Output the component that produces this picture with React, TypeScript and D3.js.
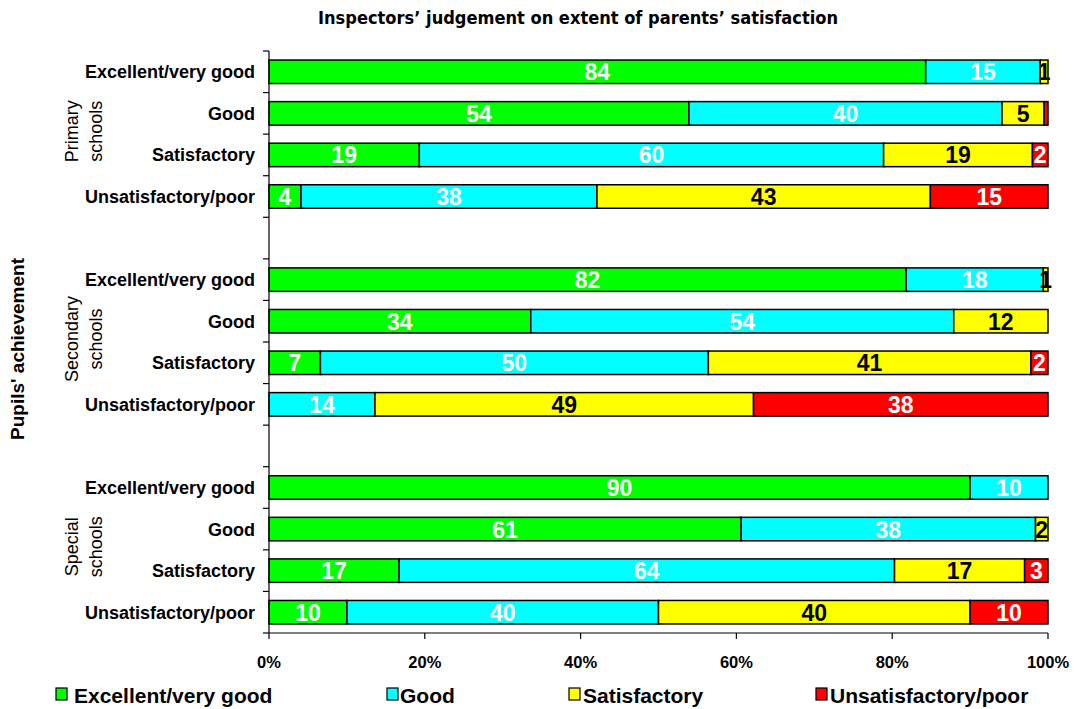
import React from "react";
import * as d3 from "d3";

// Rows of the chart: three school types, each with four achievement bands
const schoolTypes = ["Primary schools", "Secondary schools", "Special schools"];
const achievementBands = ["Excellent/very good", "Good", "Satisfactory", "Unsatisfactory/poor"];

// Parents' satisfaction series (percent of schools), one value per row, top to bottom
const seriesNames = ["Excellent/very good", "Good", "Satisfactory", "Unsatisfactory/poor"];
const excellentVeryGood = [84.3, 53.9, 19.3, 4.1, 81.8, 33.6, 6.6, 0, 90.0, 60.6, 16.7, 10.0];
const good = [14.7, 40.2, 59.6, 38.0, 17.6, 54.3, 49.8, 13.6, 10.0, 37.8, 63.6, 40.0];
const satisfactory = [1.0, 5.4, 19.1, 42.8, 0.6, 12.1, 41.4, 48.6, 0, 1.6, 16.7, 40.0];
const unsatisfactoryPoor = [0, 0.5, 2.0, 15.1, 0, 0, 2.2, 37.8, 0, 0, 3.0, 10.0];

const xTicks = [0, 20, 40, 60, 80, 100];

const seriesColors = ["#00FF00", "#00FFFF", "#FFFF00", "#FF0000"];
const labelColors = ["#FFFFFF", "#FFFFFF", "#000000", "#FFFFFF"];

const W = 1074;
const H = 709;
const plotLeft = 269;
const plotRight = 1048;
const plotTop = 51;
const plotBottom = 633;

type Row = { key: string; group: number; band: string; [k: string]: any };

export default function App() {
  const seriesValues = [excellentVeryGood, good, satisfactory, unsatisfactoryPoor];

  // Build the slot list: 4 rows per school type with an empty slot between groups
  const slots: string[] = [];
  const rows: Row[] = [];
  schoolTypes.forEach((g, gi) => {
    if (gi > 0) slots.push(`gap-${gi}`);
    achievementBands.forEach((b, bi) => {
      const key = `${gi}-${bi}`;
      slots.push(key);
      const r: Row = { key, group: gi, band: b };
      seriesNames.forEach((s, si) => {
        r[s] = seriesValues[si][gi * 4 + bi];
      });
      rows.push(r);
    });
  });

  const y = d3
    .scaleBand<string>()
    .domain(slots)
    .range([plotTop, plotBottom])
    .paddingInner(0.435)
    .paddingOuter(0.2175);
  const step = y.step();
  const x = d3.scaleLinear().domain([0, 100]).range([plotLeft, plotRight]);

  const stacked = d3.stack<Row>().keys(seriesNames)(rows);
  const fmt = d3.format(".0f");

  const boundaries = d3.range(slots.length + 1).map((i) => plotTop + i * step);

  const legendItems = [
    { sx: 56, tx: 74 },
    { sx: 387, tx: 400 },
    { sx: 569, tx: 583 },
    { sx: 816, tx: 830 },
  ];

  const font = "'Liberation Sans', Arial, sans-serif";

  return (
    <svg
      width={W}
      height={H}
      style={{ position: "absolute", left: 0, top: 0, background: "#fff" }}
      fontFamily={font}
    >
      {/* Title */}
      <text
        x={578}
        y={24}
        textAnchor="middle"
        fontFamily="'DejaVu Sans', Verdana, sans-serif"
        fontWeight="bold"
        fontSize={17}
        textLength={520}
        lengthAdjust="spacingAndGlyphs"
      >
        Inspectors’ judgement on extent of parents’ satisfaction
      </text>

      {/* Bars */}
      {stacked.map((layer, si) => (
        <g key={layer.key}>
          {layer.map((d, i) => {
            const v = d[1] - d[0];
            if (v <= 0) return null;
            const r = d.data;
            const y0 = y(r.key)!;
            return (
              <rect
                key={i}
                x={x(d[0])}
                y={y0}
                width={x(d[1]) - x(d[0])}
                height={y.bandwidth()}
                fill={seriesColors[si]}
                stroke="#000"
                strokeWidth={1.5}
              />
            );
          })}
        </g>
      ))}

      {/* Segment value labels */}
      {stacked.map((layer, si) => (
        <g key={`lab-${layer.key}`}>
          {layer.map((d, i) => {
            const v = d[1] - d[0];
            if (v < 0.55) return null;
            const r = d.data;
            const cy = y(r.key)! + y.bandwidth() / 2;
            return (
              <text
                key={i}
                x={(x(d[0]) + x(d[1])) / 2}
                y={cy + 8.5}
                textAnchor="middle"
                fontWeight="bold"
                fontSize={23}
                fill={labelColors[si]}
              >
                {fmt(v)}
              </text>
            );
          })}
        </g>
      ))}

      {/* Y axis */}
      <line x1={plotLeft} x2={plotLeft} y1={plotTop} y2={plotBottom} stroke="#000" strokeWidth={1.2} />
      {boundaries.map((b, i) => (
        <line key={i} x1={plotLeft - 6} x2={plotLeft} y1={b} y2={b} stroke="#000" strokeWidth={1.2} />
      ))}

      {/* X axis */}
      <line x1={plotLeft} x2={plotRight} y1={plotBottom} y2={plotBottom} stroke="#000" strokeWidth={1.2} />
      {xTicks.map((t) => (
        <g key={t}>
          <line x1={x(t)} x2={x(t)} y1={plotBottom} y2={plotBottom + 6} stroke="#000" strokeWidth={1.2} />
          <text x={x(t)} y={668} textAnchor="middle" fontWeight="bold" fontSize={16.5}>
            {`${t}%`}
          </text>
        </g>
      ))}

      {/* Row labels */}
      {rows.map((r) => (
        <text
          key={r.key}
          x={255}
          y={y(r.key)! + y.bandwidth() / 2 + 6.5}
          textAnchor="end"
          fontWeight="bold"
          fontSize={18}
        >
          {r.band}
        </text>
      ))}

      {/* School type labels */}
      {schoolTypes.map((g, gi) => {
        const first = y(`${gi}-0`)!;
        const last = y(`${gi}-3`)! + y.bandwidth();
        const cy = (first + last) / 2 - 3;
        const [l1, l2] = g.split(" ");
        return (
          <g key={g}>
            <text transform={`translate(78,${cy}) rotate(-90)`} textAnchor="middle" fontSize={18}>
              {l1}
            </text>
            <text transform={`translate(102,${cy}) rotate(-90)`} textAnchor="middle" fontSize={18}>
              {l2}
            </text>
          </g>
        );
      })}

      {/* Axis title */}
      <text transform={`translate(24,349) rotate(-90)`} textAnchor="middle" fontWeight="bold" fontSize={19}>
        Pupils' achievement
      </text>

      {/* Legend */}
      {seriesNames.map((s, si) => (
        <g key={s}>
          <rect
            x={legendItems[si].sx}
            y={688}
            width={11}
            height={12}
            fill={seriesColors[si]}
            stroke="#000"
            strokeWidth={1.2}
          />
          <text x={legendItems[si].tx} y={703} fontWeight="bold" fontSize={21}>
            {s}
          </text>
        </g>
      ))}
    </svg>
  );
}
